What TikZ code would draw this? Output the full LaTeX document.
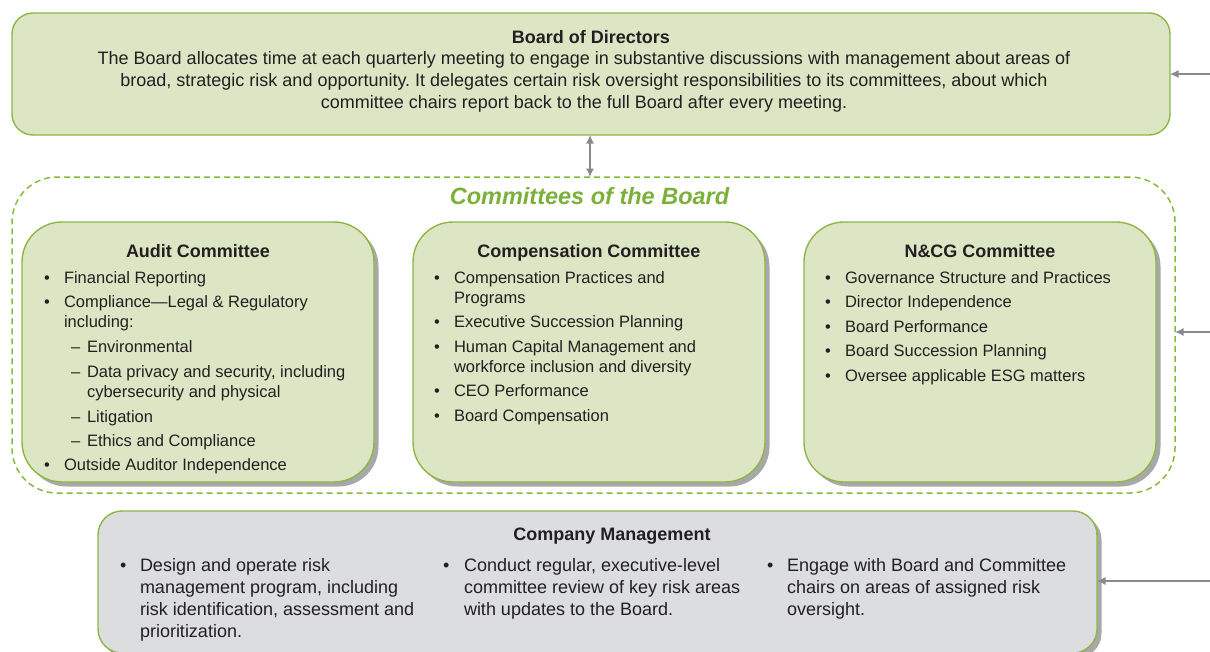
\documentclass[tikz,border=0pt]{standalone}
\usepackage{fontspec}
\setmainfont{Liberation Sans}
\usetikzlibrary{arrows.meta,shadows}
\definecolor{grn}{HTML}{8DB646}
\definecolor{dgrn}{HTML}{86BC3E}
\definecolor{fillg}{HTML}{DCE6C5}
\definecolor{fillgray}{HTML}{DCDDDF}
\definecolor{shad}{HTML}{A8A8A8}
\definecolor{arr}{HTML}{8A8A8E}
\definecolor{txtc}{HTML}{231F20}
\definecolor{ttl}{HTML}{7CB03A}
\frenchspacing
\tikzset{
  box/.style={draw=grn, line width=1.4pt, fill=fillg, inner sep=0pt, outer sep=0pt, rounded corners=21pt},
  shd/.style={drop shadow={shadow xshift=4.5pt, shadow yshift=-4.5pt, fill=shad, opacity=1}},
  cbox/.style={box, shd, rounded corners=40pt, minimum width=352pt, minimum height=260pt},
  itm/.style={anchor=base west, inner sep=0pt, outer sep=0pt, text=txtc, font=\fontsize{16.5}{20}\selectfont},
  mitm/.style={itm, font=\fontsize{18}{22}\selectfont},
  btxt/.style={anchor=base, inner sep=0pt, outer sep=0pt, text=txtc, font=\fontsize{18}{22}\selectfont},
  hd/.style={anchor=base, inner sep=0pt, outer sep=0pt, text=txtc, font=\fontsize{18}{22}\selectfont\bfseries},
  tipst/.tip={Latex[length=8.5pt,width=8pt]},
  arrowst/.style={draw=arr, line width=1.3pt, -tipst},
}
\newcommand\bul[5]{\node[itm] (#1b) at (#2,#4) {\textbullet}; \node[itm] (#1) at (#3,#4) {#5};}
\newcommand\dsh[5]{\node[itm] (#1b) at (#2,#4) {–}; \node[itm] (#1) at (#3,#4) {#5};}
\newcommand\mbul[5]{\node[mitm] (#1b) at (#2,#4) {\textbullet}; \node[mitm] (#1) at (#3,#4) {#5};}
\begin{document}
\begin{tikzpicture}[x=1pt,y=-1pt]
\useasboundingbox (0,0) rectangle (1210,651);
% Board
\node[box, minimum width=1158pt, minimum height=122pt] (board) at (591,74) {};
\node[hd] (boardt) at (591,43) {Board of Directors};
\node[btxt] (bl1) at (584,64) {The Board allocates time at each quarterly meeting to engage in substantive discussions with management about areas of};
\node[btxt] (bl2) at (584,86) {broad, strategic risk and opportunity. It delegates certain risk oversight responsibilities to its committees, about which};
\node[btxt] (bl3) at (584,108) {committee chairs report back to the full Board after every meeting.};
% Container
\node[draw=dgrn, line width=1.5pt, dash pattern=on 6pt off 4pt, rounded corners=45pt, minimum width=1163pt, minimum height=316pt, inner sep=0pt, outer sep=0pt] (cont) at (593.5,335) {};
\node[anchor=base, inner sep=0pt, text=ttl, font=\fontsize{23.5}{28}\selectfont\bfseries\itshape] (contt) at (589.5,204) {Committees of the Board};
% Committees
\node[cbox] (audit) at (198,352) {};
\node[cbox] (comp) at (589,352) {};
\node[cbox] (ncg) at (980,352) {};
\node[hd] (auditt) at (198,257) {Audit Committee};
\node[hd] (compt) at (589,257) {Compensation Committee};
\node[hd] (ncgt) at (980,257) {N\&CG Committee};
% Audit items
\bul{a1}{44}{64}{283}{Financial Reporting}
\bul{a2}{44}{64}{307}{Compliance—Legal \& Regulatory}
\node[itm] (a2c) at (64,327) {including:};
\dsh{a3}{71}{87}{352}{Environmental}
\dsh{a4}{71}{87}{377}{Data privacy and security, including}
\node[itm] (a4c) at (87,397) {cybersecurity and physical};
\dsh{a5}{71}{87}{422}{Litigation}
\dsh{a6}{71}{87}{446}{Ethics and Compliance}
\bul{a7}{44}{64}{470}{Outside Auditor Independence}
% Compensation items
\bul{c1}{434}{454}{283}{Compensation Practices and}
\node[itm] (c1c) at (454,303) {Programs};
\bul{c2}{434}{454}{327.5}{Executive Succession Planning}
\bul{c3}{434}{454}{352}{Human Capital Management and}
\node[itm] (c3c) at (454,372) {workforce inclusion and diversity};
\bul{c4}{434}{454}{396.5}{CEO Performance}
\bul{c5}{434}{454}{421}{Board Compensation}
% NCG items
\bul{n1}{825}{845}{283}{Governance Structure and Practices}
\bul{n2}{825}{845}{307.5}{Director Independence}
\bul{n3}{825}{845}{332}{Board Performance}
\bul{n4}{825}{845}{356.5}{Board Succession Planning}
\bul{n5}{825}{845}{381}{Oversee applicable ESG matters}
% Management
\node[box, shd, fill=fillgray, rounded corners=24pt, minimum width=999pt, minimum height=142pt] (mgmt) at (597.5,582) {};
\node[hd] (mgmtt) at (612,540) {Company Management};
\mbul{m1}{120}{140}{571}{Design and operate risk}
\node[mitm] (m1b2) at (140,593) {management program, including};
\node[mitm] (m1b3) at (140,615) {risk identification, assessment and};
\node[mitm] (m1b4) at (140,637) {prioritization.};
\mbul{m2}{443}{464}{571}{Conduct regular, executive-level}
\node[mitm] (m2b2) at (464,593) {committee review of key risk areas};
\node[mitm] (m2b3) at (464,615) {with updates to the Board.};
\mbul{m3}{767}{787}{571}{Engage with Board and Committee}
\node[mitm] (m3b2) at (787,593) {chairs on areas of assigned risk};
\node[mitm] (m3b3) at (787,615) {oversight.};
% Connectors
\coordinate (inB) at (1210,74);
\coordinate (inC) at (1210,332);
\coordinate (inM) at (1210,581);
\coordinate (mx) at (590,0);
\draw[arrowst] (inB) -- (board.east);
\draw[arrowst] (inC) -- (inC -| cont.east);
\draw[arrowst] (inM) -- (inM -| mgmt.east);
\draw[arrowst, tipst-tipst] (mx |- board.south) -- (mx |- cont.north);
\end{tikzpicture}
\end{document}
